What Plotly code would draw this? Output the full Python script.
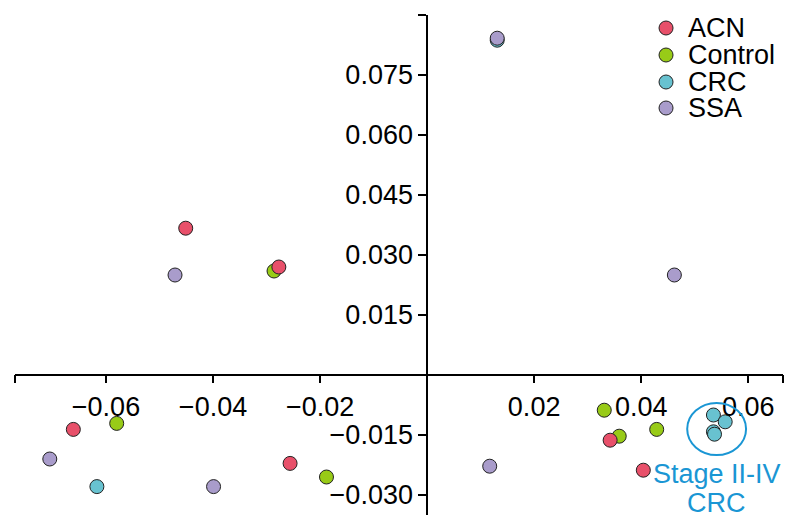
import plotly.graph_objects as go

# ---- data ----
groups = ["ACN", "Control", "CRC", "SSA"]
colors = {"ACN": "#E8506A", "Control": "#98CB17", "CRC": "#68C2D0", "SSA": "#A99CCB"}

acn_x = [-0.0451, -0.0277, -0.0661, -0.0256, 0.0342, 0.0404]
acn_y = [0.0366, 0.0269, -0.0137, -0.0222, -0.0164, -0.0239]

control_x = [-0.0286, -0.0580, -0.0188, 0.0331, 0.0359, 0.0429]
control_y = [0.0259, -0.0122, -0.0256, -0.0089, -0.0154, -0.0137]

crc_x = [0.0131, -0.0617, 0.0535, 0.0557, 0.0535, 0.0537]
crc_y = [0.0836, -0.0280, -0.0101, -0.0118, -0.0143, -0.0149]

ssa_x = [0.0131, -0.0471, 0.0462, -0.0705, -0.0399, 0.0117]
ssa_y = [0.0841, 0.0249, 0.0249, -0.0211, -0.0280, -0.0229]

x_ticks = [-0.06, -0.04, -0.02, 0.02, 0.04, 0.06]
x_ticklabels = ["\u22120.06", "\u22120.04", "\u22120.02", "0.02", "0.04", "0.06"]
y_ticks = [0.075, 0.060, 0.045, 0.030, 0.015, -0.015, -0.030]
y_ticklabels = ["0.075", "0.060", "0.045", "0.030", "0.015", "\u22120.015", "\u22120.030"]

highlight_lines = ["Stage II-IV", "CRC"]

x_range = [-0.0770, 0.0665]
y_range = [-0.0351, 0.0899]

series = {
    "ACN": (acn_x, acn_y),
    "Control": (control_x, control_y),
    "CRC": (crc_x, crc_y),
    "SSA": (ssa_x, ssa_y),
}
draw_order = ["Control", "CRC", "ACN", "SSA"]

FONT = "Liberation Sans, Arial, sans-serif"
FS = 27
MSIZE = 14
OUTLINE = dict(color="#222222", width=1)

fig = go.Figure()
for g in draw_order:
    xs, ys = series[g]
    fig.add_trace(go.Scatter(
        x=xs, y=ys, mode="markers", name=g, showlegend=False,
        marker=dict(size=MSIZE, color=colors[g], line=OUTLINE),
        cliponaxis=False,
    ))

# manual compact legend (on an overlay axis spanning the plot area 0..1)
leg_y = [0.974, 0.920, 0.866, 0.814]
leg_mx = 0.8477
leg_tx = 0.874
fig.add_trace(go.Scatter(
    x=[leg_mx] * len(groups), y=leg_y, mode="markers",
    marker=dict(size=MSIZE, color=[colors[g] for g in groups], line=OUTLINE),
    xaxis="x2", yaxis="y2", showlegend=False, cliponaxis=False, hoverinfo="skip",
))
for g, yy in zip(groups, leg_y):
    fig.add_annotation(x=leg_tx, y=yy, xref="x2", yref="y2", text=g,
                       showarrow=False, xanchor="left", yanchor="middle",
                       font=dict(family=FONT, size=FS, color="black"))

# highlight circle and label
blue = "#1A96D4"
fig.add_shape(type="circle", xref="x", yref="y",
              x0=0.0486, x1=0.0596, y0=-0.0201, y1=-0.0071,
              line=dict(color=blue, width=2))
for txt, yy in zip(highlight_lines, [-0.02475, -0.0321]):
    fig.add_annotation(x=0.05415, y=yy, xref="x", yref="y",
                       text=txt, showarrow=False,
                       font=dict(family=FONT, size=FS, color=blue), align="center")

x_pos = (0 - y_range[0]) / (y_range[1] - y_range[0])
y_pos = (0 - x_range[0]) / (x_range[1] - x_range[0])

fig.update_layout(
    width=791, height=524,
    margin=dict(l=7, r=16, t=7, b=17),
    paper_bgcolor="white", plot_bgcolor="white",
    font=dict(family=FONT, size=FS, color="black"),
    showlegend=False,
    xaxis=dict(range=x_range, anchor="free", position=x_pos,
               showgrid=False, zeroline=False, showline=True,
               linecolor="black", linewidth=1.5,
               ticks="outside", ticklen=8, tickwidth=1.5, tickcolor="black",
               tickvals=[x_range[0]] + x_ticks + [x_range[1]],
               ticktext=[""] + x_ticklabels + [""],
               tickfont=dict(size=FS)),
    yaxis=dict(range=y_range, anchor="free", position=y_pos,
               showgrid=False, zeroline=False, showline=True,
               linecolor="black", linewidth=1.5,
               ticks="outside", ticklen=8, tickwidth=1.5, tickcolor="black",
               tickvals=[y_range[1]] + y_ticks,
               ticktext=[""] + y_ticklabels,
               tickfont=dict(size=FS)),
    xaxis2=dict(range=[0, 1], overlaying="x", visible=False, fixedrange=True),
    yaxis2=dict(range=[0, 1], overlaying="y", visible=False, fixedrange=True),
)

fig.write_html("out.html")
